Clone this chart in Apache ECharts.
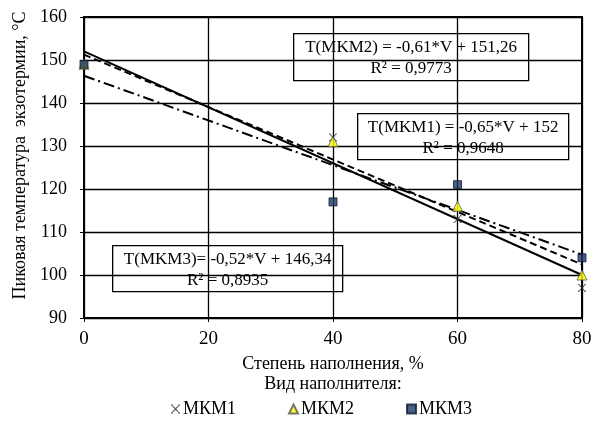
<!DOCTYPE html>
<html>
<head>
<meta charset="utf-8">
<script src="https://cdn.jsdelivr.net/npm/echarts@6/dist/echarts.min.js"></script>
<style>html,body{margin:0;padding:0;background:#fff}#c{width:595px;height:421px}</style>
</head>
<body>
<div id="c"></div>
<script>
const fillLevels = [0, 40, 60, 80];
const mkm1 = [149, 132, 113, 97];
const mkm2 = [149, 131, 116, 100];
const mkm3 = [149, 117, 121, 104];
const seriesNames = ['МКМ1', 'МКМ2', 'МКМ3'];
const trendSlopes = [-0.65, -0.61, -0.52];
const trendIntercepts = [152, 151.26, 146.34];
const trendLabels = [
  ['T(MKM1) = -0,65*V + 152', 'R² = 0,9648'],
  ['T(MKM2) = -0,61*V + 151,26', 'R² = 0,9773'],
  ['T(MKM3)= -0,52*V + 146,34', 'R² = 0,8935']
];
const xTicks = [0, 20, 40, 60, 80];
const yTicks = [90, 100, 110, 120, 130, 140, 150, 160];

const FONT = 'Liberation Serif';
const chart = echarts.init(document.getElementById('c'));
const pts = arr => fillLevels.map((x, i) => [x, arr[i]]);
const trend = i => [[xTicks[0], trendIntercepts[i] + trendSlopes[i] * xTicks[0]],
                    [xTicks[xTicks.length - 1], trendIntercepts[i] + trendSlopes[i] * xTicks[xTicks.length - 1]]];
const xSym = 'path://M0,0L2,0L2,1L5,4L8,1L8,0L10,0L10,1.5L9,1.5L6,5L9,8.5L10,8.5L10,10L8,10L8,9L5,6L2,9L2,10L0,10L0,8.5L1,8.5L4,5L1,1.5L0,1.5Z';

function box(x, y, w, h, lines) {
  return {
    type: 'group', left: x, top: y, z: 100,
    children: [
      {type: 'rect', shape: {x: 0, y: 0, width: w, height: h},
       style: {fill: '#fff', stroke: '#000', lineWidth: 1.3}},
      {type: 'text', x: w / 2, y: 14, style: {text: lines[0], font: '17px "Liberation Serif"', fill: '#000', align: 'center', verticalAlign: 'middle'}},
      {type: 'text', x: w / 2, y: 35, style: {text: lines[1], font: '17px "Liberation Serif"', fill: '#000', align: 'center', verticalAlign: 'middle'}}
    ]
  };
}

chart.setOption({
  animation: false,
  grid: {left: 84, right: 13, top: 17, bottom: 103, show: true, borderColor: '#000', borderWidth: 2},
  xAxis: {
    type: 'value', min: xTicks[0], max: xTicks[xTicks.length - 1], interval: 20,
    name: 'Степень наполнения, %\nВид наполнителя:', nameLocation: 'middle', nameGap: 29,
    nameTextStyle: {fontFamily: FONT, fontSize: 18, color: '#000', lineHeight: 20},
    axisLine: {lineStyle: {color: '#000', width: 2}},
    axisTick: {show: true, inside: false, length: 4, lineStyle: {color: '#000'}},
    axisLabel: {fontFamily: FONT, fontSize: 19, color: '#000', margin: 12},
    splitLine: {show: true, lineStyle: {color: '#000', width: 1.3}}
  },
  yAxis: {
    type: 'value', min: yTicks[0], max: yTicks[yTicks.length - 1], interval: 10,
    name: 'Пиковая температура  экзотермии, °С', nameLocation: 'middle', nameGap: 52,
    nameTextStyle: {fontFamily: FONT, fontSize: 18, color: '#000', padding: [0, 0, 0, 24]},
    axisLine: {lineStyle: {color: '#000', width: 2}},
    axisTick: {show: true, length: 4, lineStyle: {color: '#000'}},
    axisLabel: {fontFamily: FONT, fontSize: 18, color: '#000', margin: 17},
    splitLine: {show: true, lineStyle: {color: '#000', width: 1.3}}
  },
  legend: {
    left: 166, top: 395, itemGap: 52, itemWidth: 9, itemHeight: 9,
    data: seriesNames,
    textStyle: {fontFamily: FONT, fontSize: 18, color: '#000', padding: [0, 0, 0, -2]}
  },
  series: [
    {type: 'line', data: trend(0), symbol: 'none', silent: true, lineStyle: {color: '#000', width: 2, type: 'solid'}, z: 2},
    {type: 'line', data: trend(1), symbol: 'none', silent: true, lineStyle: {color: '#000', width: 2, type: [7, 4]}, z: 2},
    {type: 'line', data: trend(2), symbol: 'none', silent: true, lineStyle: {color: '#000', width: 2, type: [11, 4, 2, 4]}, z: 2},
    {name: seriesNames[0], type: 'scatter', data: pts(mkm1), symbol: xSym, symbolSize: 8,
     itemStyle: {color: '#333'}, z: 5},
    {name: seriesNames[1], type: 'scatter', data: pts(mkm2), symbol: 'triangle', symbolSize: 10,
     itemStyle: {color: '#ffff00', borderColor: '#555', borderWidth: 1}, z: 5},
    {name: seriesNames[2], type: 'scatter', data: pts(mkm3), symbol: 'rect', symbolSize: 8,
     itemStyle: {color: '#1f3864', borderColor: '#0a1a33', borderWidth: 1}, z: 6}
  ],
  graphic: [
    box(293, 33, 235, 47, trendLabels[1]),
    box(357, 113, 211, 46, trendLabels[0]),
    box(112, 245, 230, 46, trendLabels[2])
  ]
});
</script>
</body>
</html>
